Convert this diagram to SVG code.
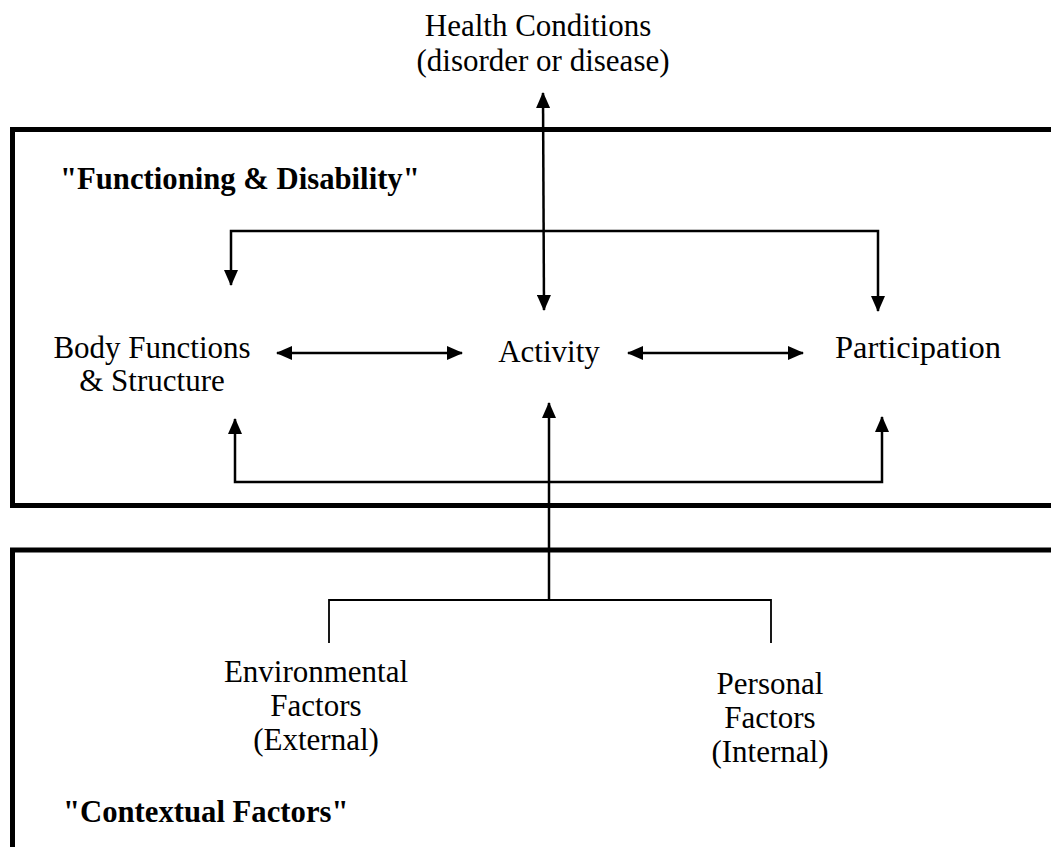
<svg xmlns="http://www.w3.org/2000/svg" width="1051" height="847" viewBox="0 0 1051 847">
<style>
.t{font-family:"Liberation Serif","Times New Roman",serif;font-size:31px;fill:#000;text-anchor:middle}
.b{font-family:"Liberation Serif","Times New Roman",serif;font-size:30.7px;font-weight:bold;fill:#000}
.box{fill:none;stroke:#000;stroke-width:5}
.c{fill:none;stroke:#000;stroke-width:2.5}
.thin{fill:none;stroke:#000;stroke-width:1.8}
</style>
<defs>
<marker id="ah" viewBox="0 0 16 14" markerWidth="16" markerHeight="14" refX="15" refY="7" orient="auto-start-reverse" markerUnits="userSpaceOnUse">
<path d="M0,0 L16,7 L0,14 z" fill="#000"/>
</marker>
</defs>
<rect width="1051" height="847" fill="#fff"/>
<g id="functioning-box">
<path class="box" d="M1060 129.5 H12.5 V505.5 H1060"/>
<text class="b" x="60" y="189">"Functioning &amp; Disability"</text>
</g>
<g id="contextual-box">
<path class="box" d="M1060 550 H12.5 V860"/>
<text class="b" x="63" y="822">"Contextual Factors"</text>
</g>
<g id="health">
<text class="t" x="538" y="36">Health Conditions</text>
<text class="t" x="543" y="71">(disorder or disease)</text>
</g>
<g id="body">
<text class="t" x="152" y="358">Body Functions</text>
<text class="t" x="152" y="391">&amp; Structure</text>
</g>
<g id="activity">
<text class="t" x="549" y="362">Activity</text>
</g>
<g id="participation">
<text class="t" x="918" y="358" style="font-size:32.5px">Participation</text>
</g>
<g id="environmental">
<text class="t" x="316" y="682">Environmental</text>
<text class="t" x="316" y="716">Factors</text>
<text class="t" x="316" y="750">(External)</text>
</g>
<g id="personal">
<text class="t" x="770" y="694">Personal</text>
<text class="t" x="770" y="728">Factors</text>
<text class="t" x="770" y="762">(Internal)</text>
</g>
<g id="connectors">
<line class="c" x1="543" y1="93" x2="544" y2="310" marker-start="url(#ah)" marker-end="url(#ah)"/>
<path class="c" d="M231 285 V231 H878 V311" marker-start="url(#ah)" marker-end="url(#ah)"/>
<path class="c" d="M235 419 V482 H882 V417" marker-start="url(#ah)" marker-end="url(#ah)"/>
<line class="c" x1="277" y1="353" x2="462" y2="353" marker-start="url(#ah)" marker-end="url(#ah)"/>
<line class="c" x1="628" y1="353" x2="803" y2="353" marker-start="url(#ah)" marker-end="url(#ah)"/>
<line class="c" x1="549" y1="600" x2="549" y2="403" marker-end="url(#ah)"/>
<path class="thin" d="M329 643 V600 H771 V643"/>
</g>
</svg>
